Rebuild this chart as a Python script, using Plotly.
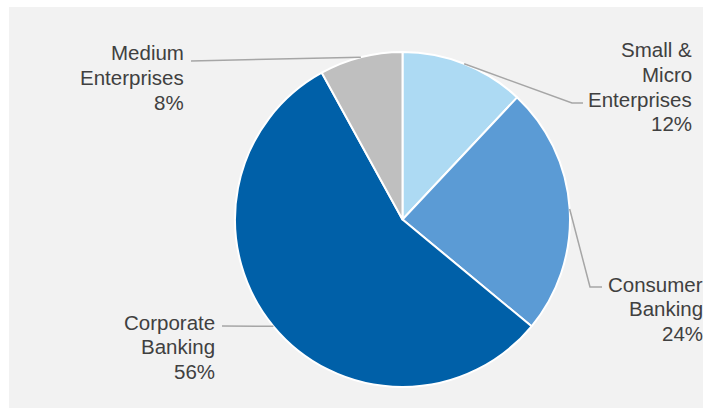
import math
import plotly.graph_objects as go

# ---- data ----
categories = ["Small & Micro Enterprises", "Consumer Banking", "Corporate Banking", "Medium Enterprises"]
values = [12, 24, 56, 8]
label_lines = [["Small &", "Micro", "Enterprises", "12%"],
               ["Consumer", "Banking", "24%"],
               ["Corporate", "Banking", "56%"],
               ["Medium", "Enterprises", "8%"]]
colors = ["#addaf3", "#5b9bd5", "#0060a8", "#bfbfbf"]

W, H = 712, 415
CX, CY, R = 402.5, 219.5, 167.5

def px(x):
    return x / W

def py(y):
    return 1 - y / H

fig = go.Figure()
fig.add_trace(go.Pie(
    labels=categories, values=values, sort=False, direction="clockwise",
    rotation=0, marker=dict(colors=colors, line=dict(color="white", width=2)),
    textinfo="none", hoverinfo="label+percent", showlegend=False,
    domain=dict(x=[px(CX - R), px(CX + R)], y=[py(CY + R), py(CY - R)]),
))

# label styling (text anchor right edge, first line center y, elbow/end of leader line)
label_style = [
    dict(xr=694, y0=50, end=(583, 103), elbow=(572, 103)),
    dict(xr=705, y0=284, end=(602, 287), elbow=(590, 287)),
    dict(xr=217, y0=322, end=(222, 326), elbow=(222, 326)),
    dict(xr=186, y0=53, end=(191, 61), elbow=(191, 61)),
]
LINE_H = 24.5

annotations = []
shapes = [dict(type="rect", xref="paper", yref="paper", x0=px(9), x1=px(703),
               y0=py(408), y1=py(7), fillcolor="#f2f2f2", line=dict(width=0), layer="below")]

total = sum(values)
cum = 0
for v, lines, st in zip(values, label_lines, label_style):
    mid = (cum + v / 2) / total * 2 * math.pi
    cum += v
    ex = CX + R * math.sin(mid)
    ey = CY - R * math.cos(mid)
    pts = [(ex, ey), st["elbow"], st["end"]]
    path = "M " + " L ".join(f"{px(a)},{py(b)}" for a, b in pts)
    shapes.append(dict(type="path", xref="paper", yref="paper", path=path,
                       line=dict(color="#a6a6a6", width=1.5)))
    for i, t in enumerate(lines):
        annotations.append(dict(
            text=t, xref="paper", yref="paper", x=px(st["xr"]), y=py(st["y0"] + i * LINE_H),
            xanchor="right", yanchor="middle", showarrow=False,
            font=dict(family="Liberation Sans, Arial, sans-serif", size=20.5, color="#404040")))

fig.update_layout(
    width=W, height=H, margin=dict(l=0, r=0, t=0, b=0),
    paper_bgcolor="white", shapes=shapes, annotations=annotations,
)

fig.write_html("out.html")
